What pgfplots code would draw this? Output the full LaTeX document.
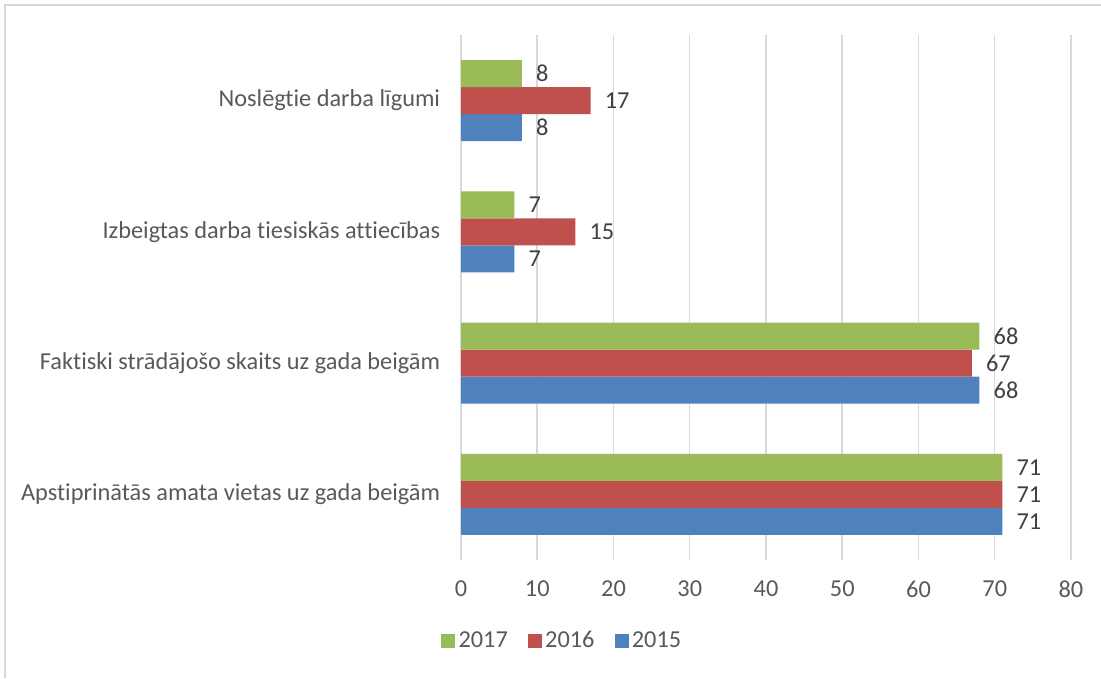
\documentclass[border=0pt]{standalone}
\usepackage{fontspec}
\setmainfont{Carlito}[Ligatures={NoCommon}]
\usepackage{pgfplots}
\pgfplotsset{compat=1.18}
\definecolor{gA}{HTML}{9BBB59}
\definecolor{rA}{HTML}{C0504D}
\definecolor{bA}{HTML}{4F81BD}
\definecolor{txt}{HTML}{595959}
\definecolor{lbl}{HTML}{404040}
\definecolor{grd}{HTML}{D9D9D9}
\begin{document}
\begin{tikzpicture}
\path[use as bounding box] (0,0) rectangle (660.6pt,406.8pt);
\draw[grd, line width=1pt] (3pt,0) -- (3pt,403.8pt) -- (660.6pt,403.8pt);
\begin{axis}[
  at={(276.6pt,70.8pt)}, anchor=south west, scale only axis,
  width=366pt, height=315pt,
  xbar=0pt, bar width=16.2pt,
  xmin=0, xmax=80, xtick={0,10,...,80},
  ymin=-0.5, ymax=3.5, ytick={0,1,2,3},
  yticklabels={Apstiprinātās amata vietas uz gada beigām,
    Faktiski strādājošo skaits uz gada beigām,
    Izbeigtas darba tiesiskās attiecības,
    {Noslēgtie darba līgumi\ }},
  axis line style={draw=none}, major tick length=0pt,
  xmajorgrids, major grid style={grd, line width=0.9pt},
  tick label style={font=\fontsize{14.6}{16}\selectfont, text=txt},
  xticklabel style={yshift=-9pt},
  yticklabel style={xshift=-9pt},
  /pgf/number format/assume math mode=true,
  nodes near coords,
  nodes near coords style={font=\fontsize{14.6}{16}\selectfont, text=lbl, anchor=west, xshift=5pt},
  reverse legend,
  legend columns=-1,
  legend style={at={(0.167,-0.154)}, anchor=center, draw=none, fill=none,
    font=\fontsize{14.6}{16}\selectfont, text=txt,
    /tikz/every even column/.append style={column sep=10pt}},
  legend image code/.code={\fill[#1] (0pt,-4.2pt) rectangle (8.4pt,4.2pt);},
]
\addplot[fill=bA, draw=none] coordinates {(71,0) (68,1) (7,2) (8,3)};
\addplot[fill=rA, draw=none] coordinates {(71,0) (67,1) (15,2) (17,3)};
\addplot[fill=gA, draw=none] coordinates {(71,0) (68,1) (7,2) (8,3)};
\legend{2015,2016,2017}
\end{axis}
\end{tikzpicture}
\end{document}
